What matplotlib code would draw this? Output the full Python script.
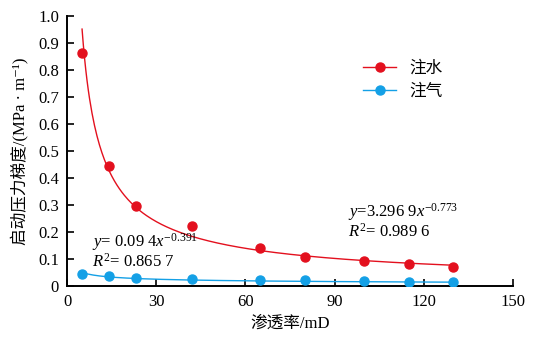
import numpy as np
import matplotlib
matplotlib.use("Agg")
import matplotlib.pyplot as plt

plt.rcParams['font.family'] = ['Liberation Serif', 'Noto Sans CJK SC', 'DejaVu Sans']
plt.rcParams['mathtext.fontset'] = 'custom'
plt.rcParams['mathtext.rm'] = 'Liberation Serif'
plt.rcParams['mathtext.it'] = 'Liberation Serif:italic'

# === data ===
perm = [5, 14, 23, 42, 65, 80, 100, 115, 130]
water = [0.86, 0.445, 0.297, 0.222, 0.141, 0.108, 0.092, 0.080, 0.071]
gas = [0.046, 0.035, 0.031, 0.026, 0.023, 0.022, 0.020, 0.016, 0.014]

# power-law fits printed on the chart: y = a * x^b
water_fit = (3.2969, -0.773)
gas_fit = (0.094, -0.391)

x_ticks = [0, 30, 60, 90, 120, 150]
y_ticks = [0, 0.1, 0.2, 0.3, 0.4, 0.5, 0.6, 0.7, 0.8, 0.9, 1.0]

RED = "#E3101E"
BLUE = "#14A0E6"

fig = plt.figure(figsize=(5.42, 3.40), dpi=100)
ax = fig.add_axes([0.124, 0.159, 0.822, 0.795])

xs = np.linspace(perm[0], perm[-1], 300)
ax.plot(xs, water_fit[0] * xs ** water_fit[1], color=RED, lw=1.0)
ax.plot(xs, gas_fit[0] * xs ** gas_fit[1], color=BLUE, lw=1.0)
ax.plot(perm, water, "o", color=RED, ms=6.5, zorder=3)
ax.plot(perm, gas, "o", color=BLUE, ms=6.5, zorder=3)

# legend drawn as line+marker handles
ax.plot([], [], "-o", color=RED, ms=6.5, lw=1.0, label="注水")
ax.plot([], [], "-o", color=BLUE, ms=6.5, lw=1.0, label="注气")
handles, labels = ax.get_legend_handles_labels()
ax.legend(handles[-2:], labels[-2:], loc="upper left", bbox_to_anchor=(0.63, 0.89),
          frameon=False, fontsize=12, handlelength=2.0, labelspacing=0.45)

ax.text(94.5, 0.274, r"$y$=3.296 9$x^{-0.773}$", fontsize=12, va="center")
ax.text(94.5, 0.202, r"$R^{2}$= 0.989 6", fontsize=12, va="center")
ax.text(8.5, 0.163, r"$y$= 0.09 4$x^{-0.391}$", fontsize=12, va="center")
ax.text(8.5, 0.089, r"$R^{2}$= 0.865 7", fontsize=12, va="center")

ax.set_xlim(0, 150)
ax.set_ylim(0, 1.0)
ax.set_xticks(x_ticks)
ax.set_yticks(y_ticks)
ax.set_xticklabels([str(v) for v in x_ticks])
ax.set_yticklabels(["0"] + [f"{v:.1f}" for v in y_ticks[1:]])
ax.spines["top"].set_visible(False)
ax.spines["right"].set_visible(False)
ax.spines["left"].set_linewidth(1.4)
ax.spines["bottom"].set_linewidth(1.4)
ax.tick_params(direction="in", length=5, width=1.2, labelsize=12, pad=6)
ax.set_xlabel("渗透率/mD", fontsize=12, labelpad=4)
ax.set_ylabel("启动压力梯度/(MPa · m⁻¹)", fontsize=12, labelpad=6)

plt.savefig("out.png", dpi=100)
